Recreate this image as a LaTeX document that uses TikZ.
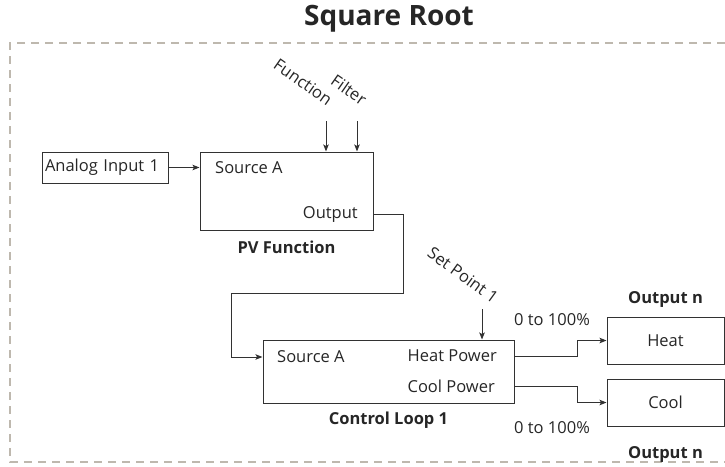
\documentclass[tikz,border=0pt]{standalone}
\usepackage{fontspec}
\setmainfont{Open Sans}
\usepackage{tikz}
\usetikzlibrary{positioning,arrows.meta,calc}
\definecolor{framegray}{RGB}{190,184,174}
\definecolor{linegray}{RGB}{50,50,50}

\begin{document}
\begin{tikzpicture}[
    x=1pt, y=-1pt,
    font=\fontsize{16.5}{19}\selectfont,
    text=black!85,
    block/.style={draw=linegray, line width=1pt, inner sep=0pt},
    port_txt/.style={inner sep=0pt},
    name_txt/.style={inner sep=0pt, font=\fontsize{16.5}{19}\selectfont\bfseries},
    title_txt/.style={inner sep=0pt, font=\fontsize{28}{32}\selectfont\bfseries},
    frame_line/.style={draw=framegray, line width=2pt, dash pattern=on 8pt off 6pt},
    arr/.style={-{Stealth[length=7pt,width=5.5pt,inset=1.5pt]}, draw=linegray, line width=1pt}
]
\useasboundingbox (0,0) rectangle (725,466);

% dashed frame round the function block
\draw[frame_line] (725,43) -- (10,43) -- (10,462) -- (725,462);
\node (title) [title_txt] at (389,19) {Square Root};

% input and PV function
\node (ain) [block, minimum height=31pt, text width=120pt, align=left, inner xsep=3pt] at (105,167.5) {Analog Input 1};

\node (pvf)   [block, minimum width=173pt, minimum height=78pt] at (286.5,191) {};
\node (pvsrc) [port_txt, anchor=west] at (215,168) {Source A};
\node (pvout) [port_txt, anchor=east] at (358,214) {Output};
\node (pvlbl) [name_txt, below=10pt of pvf] {PV Function};

\coordinate (fn_in)  at (326,121);
\coordinate (flt_in) at (357,121);
\node (fnlbl)  [rotate=-35] at (303,82) {Function};
\node (fltlbl) [rotate=-35] at (349,90) {Filter};

% control loop
\node (cl)     [block, minimum width=251pt, minimum height=63pt] at (388.5,371.5) {};
\node (clsrc)  [port_txt, anchor=west] at (277,357) {Source A};
\node (clheat) [port_txt, anchor=east] at (497,356) {Heat Power};
\node (clcool) [port_txt, anchor=east] at (495,386) {Cool Power};
\node (cllbl)  [name_txt, below=8pt of cl] {Control Loop 1};

\coordinate (sp_in) at (482,309);
\node (splbl) [rotate=-36] at (463,275) {Set Point 1};

% outputs
\node (heat) [block, minimum width=117pt, minimum height=47pt] at (665.5,340.5) {Heat};
\node (cool) [block, minimum width=117pt, minimum height=47pt] at (665.5,402.5) {Cool};
\node (heatlbl) [name_txt, above=9pt of heat]  {Output n};
\node (coollbl) [name_txt, below=20pt of cool] {Output n};
\node (heatrng) at (552,320) {0 to 100\%};
\node (coolrng) at (552,428) {0 to 100\%};

\coordinate (bendA) at (403,293);
\coordinate (bendB) at (231,293);

% connectors
\draw[arr] (ain.east) -- (ain.east -| pvf.west);
\draw[arr] (fn_in)  -- (fn_in |- pvf.north);
\draw[arr] (flt_in) -- (flt_in |- pvf.north);
\draw[arr] (pvf.east |- pvout) -| (bendA) -- (bendB) |- (cl.west |- clsrc);
\draw[arr] (sp_in) -- (sp_in |- cl.north);
\draw[arr] (cl.east |- clheat) -- ++(63,0) |- (heat.west);
\draw[arr] (cl.east |- clcool) -- ++(63,0) |- (cool.west);

\end{tikzpicture}
\end{document}
